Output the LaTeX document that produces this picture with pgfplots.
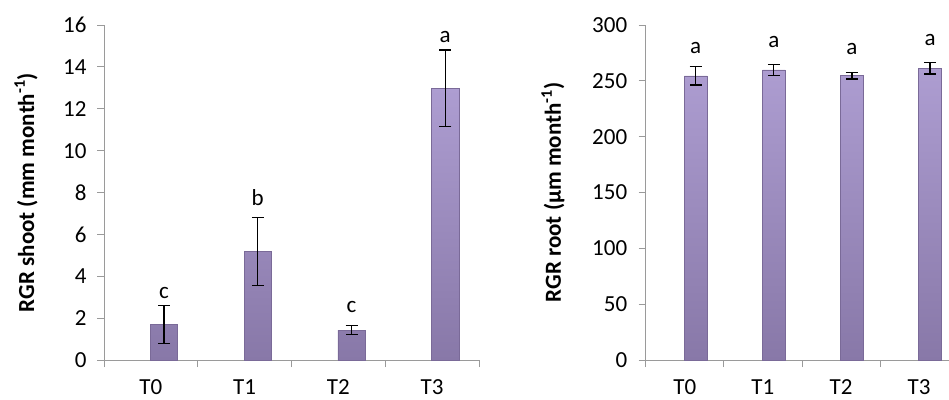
\documentclass[border=0pt]{standalone}
\usepackage{fontspec}
\setmainfont{Carlito}
\usepackage{pgfplots}
\pgfplotsset{compat=1.18}
\definecolor{bartop}{HTML}{AD9DD1}
\definecolor{barbot}{HTML}{8878A8}
\definecolor{baredge}{HTML}{7A6A98}
\definecolor{axgray}{HTML}{9A9A9A}
\pgfplotsset{
  myaxis/.style={
    anchor=south west, scale only axis, height=335pt,
    xmin=-0.5, xmax=3.5, ymin=0,
    /pgf/number format/assume math mode=true,
    axis x line*=bottom, axis y line*=left,
    axis line style={axgray, line width=0.8pt},
    tick style={axgray, line width=0.8pt},
    tick align=outside, major tick length=7pt,
    xtick={-0.5,0.5,1.5,2.5,3.5}, xticklabels={},
    extra x ticks={0,1,2,3}, extra x tick labels={T0,T1,T2,T3},
    extra x tick style={major tick length=0pt, tick label style={yshift=-16pt}},
    tick label style={font=\fontsize{23}{27}\selectfont, black},
    ylabel style={font=\fontsize{23}{27}\selectfont\bfseries, anchor=center},
    clip=false,
  },
  mybar/.style={ybar, bar width=0.29, top color=bartop, bottom color=barbot, draw=baredge, line width=0.6pt,
    error bars/.cd, y dir=both, y explicit,
    error bar style={black, line width=1.3pt},
    error mark options={rotate=90, mark size=6pt, black, line width=1.3pt}},
  mylet/.style={draw=none, mark=none, nodes near coords, point meta=explicit symbolic,
    every node near coord/.append style={anchor=center, font=\fontsize{23}{27}\selectfont}},
}
\begin{document}
\begin{tikzpicture}[x=1pt,y=1pt]
\useasboundingbox (0,0) rectangle (949,399);
\clip (0,0) rectangle (949,399);
\begin{axis}[myaxis, at={(104pt,39pt)}, width=375pt,
  ymax=16, ytick={0,2,...,16},
  yticklabel style={xshift=-7pt},
  ylabel={RGR shoot (mm month\textsuperscript{-1})},
  ylabel style={at={(axis description cs:-0.208,0.5)}},
]
\addplot[mybar] table[x=x, y=y, y error=e] {
x y e
0.14 1.70 0.90
1.14 5.19 1.63
2.14 1.43 0.21
3.14 12.97 1.83
};
\addplot[mylet] table[x=x, y=y, meta=l] {
x y l
0.14 3.20 c
1.14 7.74 b
2.14 2.53 c
3.14 15.42 a
};
\end{axis}
\begin{axis}[myaxis, at={(645.7pt,39pt)}, width=312.5pt,
  ymax=300, ytick={0,50,...,300},
  yticklabel style={xshift=-8pt},
  ylabel={RGR root (µm month\textsuperscript{-1})},
  ylabel style={at={(axis description cs:-0.297,0.5)}},
]
\addplot[mybar] table[x=x, y=y, y error=e] {
x y e
0.14 254.5 8.2
1.14 259.8 5.0
2.14 254.6 3.0
3.14 261.2 5.1
};
\addplot[mylet] table[x=x, y=y, meta=l] {
x y l
0.14 279.7 a
1.14 285.0 a
2.14 278.5 a
3.14 286.6 a
};
\end{axis}
\end{tikzpicture}
\end{document}
